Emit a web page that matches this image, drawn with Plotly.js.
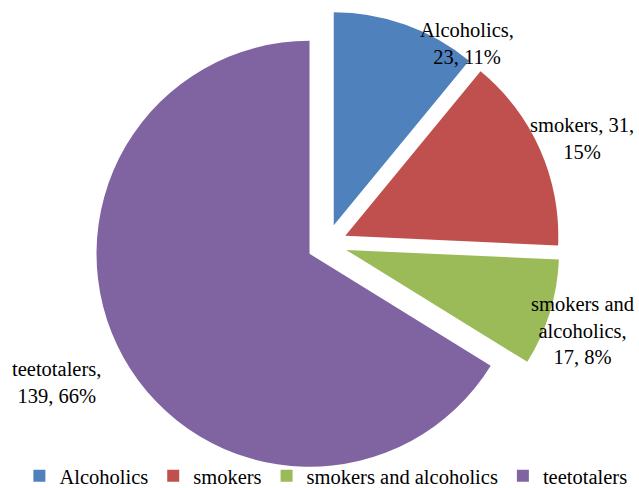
<!DOCTYPE html>
<html>
<head>
<meta charset="utf-8">
<script src="https://cdn.plot.ly/plotly-3.0.1.min.js"></script>
<style>html,body{margin:0;padding:0;background:#fff;}#chart{width:639px;height:488px;}</style>
</head>
<body>
<div id="chart"></div>
<script>
var categories = ["Alcoholics", "smokers", "smokers and alcoholics", "teetotalers"];
var counts = [23, 31, 17, 139];
var percentLabels = ["11%", "15%", "8%", "66%"];
var labelLines = [["Alcoholics,", "{v}, {p}"], ["smokers, {v},", "{p}"], ["smokers and", "alcoholics,", "{v}, {p}"], ["teetotalers,", "{v}, {p}"]];
var colors = ["#4F81BD", "#C0504D", "#9BBB59", "#8064A2"];

var FONT = "Liberation Serif";
var labelPos = [[0.731, 0.911], [0.911, 0.716], [0.912, 0.322], [0.089, 0.217]];

var annotations = categories.map(function (c, i) {
  var txt = labelLines[i].map(function (l) {
    return l.replace("{v}", counts[i]).replace("{p}", percentLabels[i]);
  }).join("<br>");
  return {
    text: txt, x: labelPos[i][0], y: labelPos[i][1], xref: "paper", yref: "paper",
    showarrow: false, align: "center", xanchor: "center", yanchor: "middle",
    font: {family: FONT, size: 20.5, color: "#000"}
  };
});

var trace = {
  type: "pie",
  labels: categories,
  values: counts,
  sort: false,
  direction: "clockwise",
  rotation: 0,
  pull: [0.094, 0.094, 0.094, 0.094],
  marker: {colors: colors, line: {width: 0}},
  textinfo: "none",
  hoverinfo: "label+value+percent",
  domain: {x: [0.0235, 1], y: [0.0225, 0.9775]}
};

var layout = {
  width: 639, height: 488,
  margin: {l: 0, r: 0, t: 0, b: 0, autoexpand: false},
  paper_bgcolor: "#fff",
  showlegend: true,
  legend: {
    orientation: "h",
    x: 0.51, xanchor: "center", y: 0.0246, yanchor: "middle",
    font: {family: FONT, size: 20.5, color: "#000"},
    bgcolor: "rgba(0,0,0,0)"
  },
  annotations: annotations
};

Plotly.newPlot("chart", [trace], layout, {displayModeBar: false, staticPlot: true});
</script>
</body>
</html>
